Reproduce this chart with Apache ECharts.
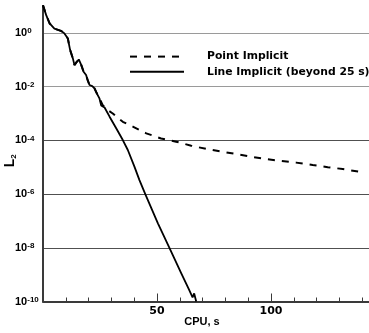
<!DOCTYPE html>
<html><head><meta charset="utf-8">
<script src="https://cdn.jsdelivr.net/npm/echarts@6/dist/echarts.min.js"></script>
<style>html,body{margin:0;padding:0;background:#fff}#c{width:369px;height:333px}</style>
</head><body><div id="c"></div>
<script>
// Series names (legend)
const seriesNames = ['Point Implicit', 'Line Implicit (beyond 25 s)'];
// Shared history (both runs identical up to ~25 s CPU) : CPU seconds and log10(L2)
const sharedCpu   = [0, 1.4, 2.9, 5, 8, 9.4, 10.9, 11.9, 13.1, 13.8, 14.8, 15.7, 16.8, 17.8, 18.9, 19.6, 20.4, 21.6, 22.6, 23.6, 24.8];
const sharedLogL2 = [1.03, 0.66, 0.35, 0.16, 0.07, -0.02, -0.21, -0.64, -0.95, -1.2, -1.08, -0.99, -1.2, -1.45, -1.57, -1.76, -1.94, -1.98, -2.07, -2.25, -2.45];
// Point implicit continuation
const pointCpu   = [26.2, 28.4, 30.6, 33, 35, 39.4, 45.3, 51.8, 58.4, 65, 71.6, 78.2, 84.7, 91.3, 97.9, 104.5, 111, 118.3, 124.9, 131.5, 139.5];
const pointLogL2 = [-2.69, -2.87, -3.0, -3.18, -3.31, -3.49, -3.74, -3.93, -4.05, -4.2, -4.32, -4.42, -4.51, -4.61, -4.7, -4.77, -4.83, -4.92, -5.0, -5.07, -5.18];
// Line implicit continuation
const lineCpu   = [25.5, 26.2, 27, 29.2, 32.1, 35, 37.2, 40.1, 42.3, 45, 50.4, 55.5, 60.6, 64, 65.6, 66.3, 67.2];
const lineLogL2 = [-2.7, -2.72, -2.78, -3.12, -3.55, -3.99, -4.36, -4.98, -5.48, -6.03, -7.09, -8.01, -8.94, -9.55, -9.85, -9.7, -10.0];
// Tick labels
const xTickLabels = [50, 100];
const yTickExponents = [0, -2, -4, -6, -8, -10];

function build(cpu, logs) { return cpu.map((c, i) => [c, Math.pow(10, logs[i])]); }
const pointData = build(sharedCpu.concat(pointCpu), sharedLogL2.concat(pointLogL2));
const lineData  = build(sharedCpu.concat(lineCpu), sharedLogL2.concat(lineLogL2));

const chart = echarts.init(document.getElementById('c'), null, {renderer: 'canvas'});
const axisColor = '#3a3a3a';
chart.setOption({
  animation: false,
  backgroundColor: '#fff',
  grid: {left: 43, right: -16, top: 6, bottom: 31.5, containLabel: false, outerBoundsMode: 'none'},
  title: {text: 'CPU, s', left: 202, top: 316, textAlign: 'center', padding: 0,
    textStyle: {fontFamily: 'Liberation Sans', fontWeight: 'bold', fontSize: 11, color: '#000'}},
  legend: {orient: 'vertical', left: 129, top: 51, itemWidth: 54, itemHeight: 14, itemGap: 4,
    selectedMode: false, padding: 0, data: seriesNames,
    itemStyle: {color: 'rgba(0,0,0,0)', borderColor: 'rgba(0,0,0,0)', borderWidth: 0, opacity: 0},
    textStyle: {fontFamily: 'DejaVu Sans', fontWeight: 'bold', fontSize: 10.8, color: '#000', padding: [0, 0, 0, 18]}},
  xAxis: {type: 'value', min: 0, max: 150, interval: 50,
    axisLine: {lineStyle: {color: axisColor, width: 2}},
    axisTick: {inside: true, length: 8, lineStyle: {color: axisColor, width: 1}},
    minorTick: {show: true, splitNumber: 5, length: 4, lineStyle: {color: axisColor, width: 1}},
    splitLine: {show: false},
    axisLabel: {formatter: v => xTickLabels.includes(v) ? String(v) : '', margin: 4,
      fontFamily: 'DejaVu Sans', fontWeight: 'bold', fontSize: 11, color: '#000'}},
  yAxis: {type: 'log', logBase: 10, min: 1e-10, max: 10, interval: 2,
    axisLine: {show: true, lineStyle: {color: axisColor, width: 2}},
    axisTick: {show: false},
    splitLine: {show: true, showMinLine: false, showMaxLine: false,
      lineStyle: {color: ['#505050', '#505050', '#505050', '#9a9a9a', '#9a9a9a'], width: 1.2}},
    axisLabel: {align: 'left', margin: 28,
      formatter: v => { const e = Math.round(Math.log10(v)); return yTickExponents.includes(e) ? '{b|10}{s|' + e + '}' : ''; },
      rich: {
        b: {fontFamily: 'Liberation Sans', fontWeight: 'bold', fontSize: 11, color: '#000', lineHeight: 12},
        s: {fontFamily: 'Liberation Sans', fontWeight: 'bold', fontSize: 8, color: '#000', verticalAlign: 'top', lineHeight: 8}
      }},
    name: '{a|L}{b|2}', nameLocation: 'middle', nameGap: 25, nameRotate: 90, nameMoveOverlap: false,
    nameTextStyle: {padding: [0, 14, 0, 0], rich: {
      a: {fontFamily: 'Liberation Sans', fontWeight: 'bold', fontSize: 14, color: '#000', lineHeight: 16},
      b: {fontFamily: 'Liberation Sans', fontWeight: 'bold', fontSize: 8, color: '#000', verticalAlign: 'bottom', lineHeight: 8}
    }}},
  series: [
    {name: seriesNames[0], type: 'line', data: pointData, symbol: 'none',
      lineStyle: {color: '#000', width: 2, type: [7, 7]}, itemStyle: {color: '#000'}, z: 2},
    {name: seriesNames[1], type: 'line', data: lineData, symbol: 'none',
      lineStyle: {color: '#000', width: 1.8}, itemStyle: {color: '#000'}, z: 3}
  ]
});
</script></body></html>
